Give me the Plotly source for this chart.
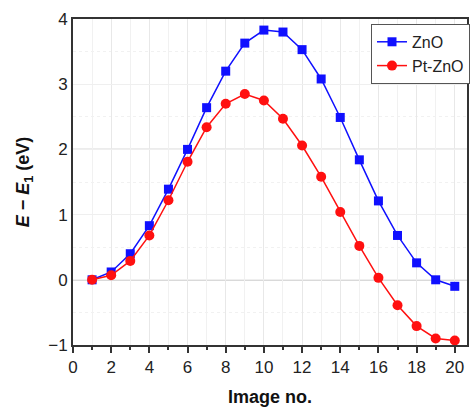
import plotly.graph_objects as go

image_no = list(range(1, 21))
zno = [0.0, 0.12, 0.40, 0.83, 1.39, 2.00, 2.64, 3.20, 3.63, 3.83,
       3.80, 3.53, 3.08, 2.49, 1.84, 1.21, 0.68, 0.26, 0.00, -0.10]
pt_zno = [0.0, 0.07, 0.29, 0.68, 1.22, 1.81, 2.34, 2.70, 2.85, 2.75,
          2.47, 2.06, 1.58, 1.04, 0.52, 0.03, -0.39, -0.71, -0.90, -0.93]
x_ticks = [0, 2, 4, 6, 8, 10, 12, 14, 16, 18, 20]
y_ticks = [-1, 0, 1, 2, 3, 4]
major_y_grid = [0, 2]

font_family = "Liberation Sans, Arial, sans-serif"

fig = go.Figure()
fig.add_trace(go.Scatter(
    x=image_no, y=zno, name="ZnO", mode="lines+markers",
    line=dict(color="#1010ff", width=1.5),
    marker=dict(symbol="square", size=9, color="#1010ff"),
))
fig.add_trace(go.Scatter(
    x=image_no, y=pt_zno, name="Pt-ZnO", mode="lines+markers",
    line=dict(color="#ff1010", width=1.5),
    marker=dict(symbol="circle", size=10, color="#ff1010"),
))

for yv in major_y_grid:
    fig.add_hline(y=yv, line=dict(color="#b4b4b4", width=1.2), layer="below")

fig.update_layout(
    width=470, height=407,
    margin=dict(l=73, r=0, t=19, b=62),
    paper_bgcolor="white", plot_bgcolor="white",
    font=dict(family=font_family, size=16, color="#222"),
    showlegend=True,
    legend=dict(
        x=1.008, y=0.985, xanchor="right", yanchor="top",
        bgcolor="white", bordercolor="#555", borderwidth=1,
        font=dict(size=16, color="#222"),
        tracegroupgap=0, itemwidth=30,
    ),
    xaxis=dict(
        range=[0, 20.64], tickvals=x_ticks,
        showline=True, linecolor="#333", linewidth=2, mirror=True,
        ticks="outside", ticklen=6, tickwidth=2, tickcolor="#333",
        showgrid=True, gridcolor="#e8e8e8", gridwidth=1,
        minor=dict(dtick=1, ticks="outside", ticklen=3, tickwidth=2,
                   tickcolor="#333", showgrid=True, gridcolor="#f1f1f1"),
        zeroline=False,
        title=dict(text="<b>Image no.</b>", font=dict(size=18, color="#111"), standoff=14),
        tickfont=dict(size=17, color="#222"),
    ),
    yaxis=dict(
        range=[-1, 4], tickvals=y_ticks,
        ticktext=["\u22121", "0", "1", "2", "3", "4"],
        showline=True, linecolor="#333", linewidth=2, mirror=True,
        ticks="", showgrid=True, gridcolor="#efefef", gridwidth=1,
        minor=dict(dtick=0.5, showgrid=True, gridcolor="#f1f1f1", griddash="dot"),
        zeroline=False,
        title=dict(text="<b><i>E</i> \u2212 <i>E</i><sub>1</sub> (eV)</b>",
                   font=dict(size=18, color="#111"), standoff=14),
        tickfont=dict(size=17, color="#222"),
    ),
)

fig.write_html("out.html",
               config={"displayModeBar": False},
               post_script="document.body.style.margin='0';document.body.style.overflow='hidden';")
